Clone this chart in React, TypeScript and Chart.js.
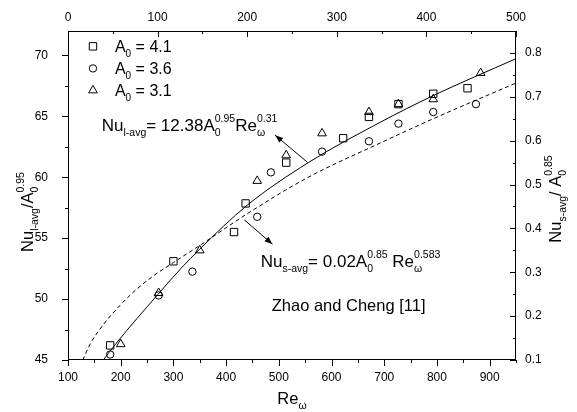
import React, { useEffect, useRef } from 'react';
import { Chart, registerables } from 'chart.js';

Chart.register(...registerables);

// Axis tick labels
const bottomTicks = [100, 200, 300, 400, 500, 600, 700, 800, 900];
const topTicks = [0, 100, 200, 300, 400, 500];
const leftTicks = [45, 50, 55, 60, 65, 70];
const rightTicks = [0.1, 0.2, 0.3, 0.4, 0.5, 0.6, 0.7, 0.8];

// Legend labels (A0 values)
const seriesLabels = ['4.1', '3.6', '3.1'];

// A0 = 4.1 (squares)
const sqRe = [180, 300, 415, 437, 514, 622, 671, 727, 793, 858];
const sqNu = [46.2, 53.1, 55.5, 57.85, 61.2, 63.2, 64.95, 66.0, 66.85, 67.3];
// A0 = 3.6 (circles)
const ciRe = [180, 272, 336, 459, 485, 582, 671, 727, 793, 874];
const ciNu = [45.45, 50.3, 52.25, 56.75, 60.4, 62.1, 62.95, 64.4, 65.35, 66.0];
// A0 = 3.1 (triangles)
const trRe = [200, 272, 350, 459, 514, 582, 671, 727, 793, 883];
const trNu = [46.3, 50.5, 54.0, 59.7, 61.8, 63.6, 65.35, 66.0, 66.4, 68.55];

// Correlation curves
const lRe = [167, 192, 271, 314, 350, 440, 556, 692, 793, 950];
const lNu = [45.0, 46.4, 50.4, 52.5, 54.1, 57.7, 61.2, 64.5, 66.7, 69.73];
const sRe = [128, 142, 167, 199, 230, 262, 300, 350, 440, 556, 692, 793, 950];
const sNu = [45.0, 46.3, 47.9, 49.5, 50.8, 51.9, 53.0, 54.4, 57.0, 60.0, 62.8, 64.8, 67.73];

const FONT = "'Liberation Sans', Arial, Helvetica, sans-serif";

type Seg = { n?: string; sub?: string; sup?: string };

function richWidth(ctx: CanvasRenderingContext2D, segs: Seg[], F: number, f: number) {
  let w = 0;
  for (const s of segs) {
    if (s.n) {
      ctx.font = `${F}px ${FONT}`;
      w += ctx.measureText(s.n).width;
    }
    if (s.sub || s.sup) {
      ctx.font = `${f}px ${FONT}`;
      w += Math.max(s.sub ? ctx.measureText(s.sub).width : 0, s.sup ? ctx.measureText(s.sup).width : 0);
    }
  }
  return w;
}

function drawRich(ctx: CanvasRenderingContext2D, segs: Seg[], x: number, y: number, F: number, f: number, align: 'left' | 'center') {
  let cx = align === 'center' ? x - richWidth(ctx, segs, F, f) / 2 : x;
  ctx.textAlign = 'left';
  ctx.textBaseline = 'alphabetic';
  ctx.fillStyle = '#000';
  for (const s of segs) {
    if (s.n) {
      ctx.font = `${F}px ${FONT}`;
      ctx.fillText(s.n, cx, y);
      cx += ctx.measureText(s.n).width;
    }
    if (s.sub || s.sup) {
      ctx.font = `${f}px ${FONT}`;
      let w = 0;
      if (s.sub) {
        ctx.fillText(s.sub, cx, y + 0.3 * F);
        w = Math.max(w, ctx.measureText(s.sub).width);
      }
      if (s.sup) {
        ctx.fillText(s.sup, cx, y - 0.55 * F);
        w = Math.max(w, ctx.measureText(s.sup).width);
      }
      cx += w;
    }
  }
}

function drawSymbol(ctx: CanvasRenderingContext2D, kind: string, x: number, y: number) {
  ctx.beginPath();
  if (kind === 'rect') {
    const h = 3.7;
    ctx.rect(x - h, y - h, 2 * h, 2 * h);
  } else if (kind === 'circle') {
    ctx.arc(x, y, 3.7, 0, Math.PI * 2);
  } else {
    const r = 5;
    for (let i = 0; i < 3; i++) {
      const a = (i * 2 * Math.PI) / 3;
      const px = x + r * Math.sin(a);
      const py = y - r * Math.cos(a);
      if (i === 0) ctx.moveTo(px, py);
      else ctx.lineTo(px, py);
    }
    ctx.closePath();
  }
  ctx.stroke();
}

function drawArrow(ctx: CanvasRenderingContext2D, x1: number, y1: number, x2: number, y2: number) {
  ctx.beginPath();
  ctx.moveTo(x1, y1);
  ctx.lineTo(x2, y2);
  ctx.stroke();
  const ang = Math.atan2(y2 - y1, x2 - x1);
  const L = 8, W = 3;
  ctx.beginPath();
  ctx.moveTo(x2, y2);
  ctx.lineTo(x2 - L * Math.cos(ang) + W * Math.sin(ang), y2 - L * Math.sin(ang) - W * Math.cos(ang));
  ctx.lineTo(x2 - L * Math.cos(ang) - W * Math.sin(ang), y2 - L * Math.sin(ang) + W * Math.cos(ang));
  ctx.closePath();
  ctx.fill();
}

const symbols = ['rect', 'circle', 'triangle'];

const decorPlugin = {
  id: 'decor',
  afterDraw(chart: any) {
    const ctx: CanvasRenderingContext2D = chart.ctx;
    const { left, right, top, bottom } = chart.chartArea;
    const sx = chart.scales.x, sy = chart.scales.y, sx2 = chart.scales.x2, sy2 = chart.scales.y2;
    const X = (v: number) => sx.getPixelForValue(v);
    const Y = (v: number) => sy.getPixelForValue(v);
    ctx.save();
    ctx.strokeStyle = '#000';
    ctx.fillStyle = '#000';
    ctx.lineWidth = 1;
    // frame
    ctx.strokeRect(left + 0.5, top + 0.5, right - left - 1, bottom - top - 1);
    const seg = (a: number, b: number, c: number, d: number) => {
      ctx.beginPath();
      ctx.moveTo(a, b);
      ctx.lineTo(c, d);
      ctx.stroke();
    };
    // bottom ticks (outward)
    const bStep = bottomTicks[1] - bottomTicks[0];
    bottomTicks.forEach((v) => {
      const p = Math.round(X(v)) + 0.5;
      seg(p, bottom, p, bottom + 6);
      const m = v + bStep / 2;
      if (m <= sx.max) {
        const q = Math.round(X(m)) + 0.5;
        seg(q, bottom, q, bottom + 3);
      }
    });
    // top ticks (inward)
    const tStep = topTicks[1] - topTicks[0];
    topTicks.forEach((v) => {
      const p = Math.round(sx2.getPixelForValue(v)) + 0.5;
      seg(p, top, p, top + 6);
      const m = v + tStep / 2;
      if (m < sx2.max) {
        const q = Math.round(sx2.getPixelForValue(m)) + 0.5;
        seg(q, top, q, top + 3);
      }
    });
    // left ticks (outward)
    const lStep = leftTicks[1] - leftTicks[0];
    leftTicks.forEach((v) => {
      const p = Math.round(Y(v)) + 0.5;
      seg(left - 6, p, left, p);
      const m = v + lStep / 2;
      if (m < sy.max) {
        const q = Math.round(Y(m)) + 0.5;
        seg(left - 3, q, left, q);
      }
    });
    // right ticks (inward)
    const rStep = rightTicks[1] - rightTicks[0];
    rightTicks.forEach((v) => {
      const p = Math.round(sy2.getPixelForValue(v)) + 0.5;
      seg(right - 6, p, right, p);
      const m = v + rStep / 2;
      if (m < sy2.max - 1e-9) {
        const q = Math.round(sy2.getPixelForValue(m)) + 0.5;
        seg(right - 3, q, right, q);
      }
    });

    // legend
    const legY = [70.74, 68.93, 67.13];
    seriesLabels.forEach((lab, i) => {
      drawSymbol(ctx, symbols[i], X(147.4), Y(legY[i]));
      drawRich(ctx, [{ n: 'A', sub: '0' }, { n: ' = ' + lab }], X(189), Y(legY[i]) + 5.5, 16, 10, 'left');
    });

    // annotations
    drawRich(
      ctx,
      [{ n: 'Nu', sub: 'l-avg' }, { n: '= 12.38A', sub: '0', sup: '0.95' }, { n: 'Re', sub: '\u03c9', sup: '0.31' }],
      X(164), Y(63.77), 17, 10.5, 'left'
    );
    drawArrow(ctx, X(555), Y(61.2), X(493), Y(63.45));
    drawRich(
      ctx,
      [{ n: 'Nu', sub: 's-avg' }, { n: '= 0.02A', sub: '0', sup: '0.85' }, { n: ' Re', sub: '\u03c9', sup: '0.583' }],
      X(465.6), Y(52.62), 17, 10.5, 'left'
    );
    drawArrow(ctx, X(434.5), Y(56.5), X(488), Y(54.5));
    ctx.font = `16.5px ${FONT}`;
    ctx.textAlign = 'left';
    ctx.textBaseline = 'alphabetic';
    ctx.fillText('Zhao and Cheng [11]', X(486.5), Y(49.0));

    // axis titles
    drawRich(ctx, [{ n: 'Re', sub: '\u03c9' }], (left + right) / 2, 404, 16.5, 10.5, 'center');
    ctx.save();
    ctx.translate(33, 212);
    ctx.rotate(-Math.PI / 2);
    drawRich(ctx, [{ n: 'Nu', sub: 'l-avg' }, { n: '/A', sub: '0', sup: '0.95' }], 0, 0, 16.5, 10.5, 'center');
    ctx.restore();
    ctx.save();
    ctx.translate(561, 199);
    ctx.rotate(-Math.PI / 2);
    drawRich(ctx, [{ n: 'Nu', sub: 's-avg' }, { n: '/ A', sub: '0', sup: '0.85' }], 0, 0, 16.5, 10.5, 'center');
    ctx.restore();

    ctx.restore();
  },
};

const pts = (xs: number[], ys: number[]) => xs.map((x, i) => ({ x, y: ys[i] }));

const tickFont = { family: FONT, size: 12 };

export default function App() {
  const ref = useRef<HTMLCanvasElement | null>(null);
  useEffect(() => {
    if (!ref.current) return;
    const chart = new Chart(ref.current, {
      type: 'scatter',
      data: {
        datasets: [
          {
            label: 'Nu_l-avg fit',
            data: pts(lRe, lNu),
            showLine: true,
            borderColor: '#000',
            borderWidth: 1,
            pointRadius: 0,
            cubicInterpolationMode: 'monotone',
            xAxisID: 'x',
            yAxisID: 'y',
          } as any,
          {
            label: 'Nu_s-avg fit',
            data: pts(sRe, sNu),
            showLine: true,
            borderColor: '#000',
            borderWidth: 1,
            borderDash: [4, 3],
            pointRadius: 0,
            cubicInterpolationMode: 'monotone',
            xAxisID: 'x',
            yAxisID: 'y',
          } as any,
          {
            label: 'A0 = ' + seriesLabels[0],
            data: pts(sqRe, sqNu),
            pointStyle: 'rect',
            pointRadius: 5.2,
            borderColor: '#000',
            backgroundColor: 'rgba(0,0,0,0)',
            borderWidth: 1,
            xAxisID: 'x',
            yAxisID: 'y',
          },
          {
            label: 'A0 = ' + seriesLabels[1],
            data: pts(ciRe, ciNu),
            pointStyle: 'circle',
            pointRadius: 3.7,
            borderColor: '#000',
            backgroundColor: 'rgba(0,0,0,0)',
            borderWidth: 1,
            xAxisID: 'x',
            yAxisID: 'y',
          },
          {
            label: 'A0 = ' + seriesLabels[2],
            data: pts(trRe, trNu),
            pointStyle: 'triangle',
            pointRadius: 5,
            borderColor: '#000',
            backgroundColor: 'rgba(0,0,0,0)',
            borderWidth: 1,
            xAxisID: 'x',
            yAxisID: 'y',
          },
        ],
      },
      options: {
        responsive: false,
        animation: false,
        devicePixelRatio: 1,
        layout: { padding: 0 },
        plugins: { legend: { display: false }, tooltip: { enabled: false } },
        scales: {
          x: {
            type: 'linear',
            position: 'bottom',
            min: 100,
            max: 950,
            grid: { display: false, drawTicks: false },
            border: { display: false },
            ticks: { padding: 10, font: tickFont, color: '#000', autoSkip: false, maxRotation: 0 },
            afterBuildTicks: (s: any) => { s.ticks = bottomTicks.map((v) => ({ value: v })); },
            afterFit: (s: any) => { s.height = 52; },
          },
          x2: {
            type: 'linear',
            position: 'top',
            min: 0,
            max: 500,
            grid: { display: false, drawTicks: false },
            border: { display: false },
            ticks: { padding: 6, font: tickFont, color: '#000', autoSkip: false, maxRotation: 0 },
            afterBuildTicks: (s: any) => { s.ticks = topTicks.map((v) => ({ value: v })); },
            afterFit: (s: any) => { s.height = 31; },
          },
          y: {
            type: 'linear',
            position: 'left',
            min: 45,
            max: 72,
            grid: { display: false, drawTicks: false },
            border: { display: false },
            ticks: { padding: 20, font: tickFont, color: '#000', autoSkip: false },
            afterBuildTicks: (s: any) => { s.ticks = leftTicks.map((v) => ({ value: v })); },
            afterFit: (s: any) => { s.width = 68; },
          },
          y2: {
            type: 'linear',
            position: 'right',
            min: 0.1,
            max: 0.85,
            grid: { display: false, drawTicks: false },
            border: { display: false },
            ticks: {
              padding: 9,
              font: tickFont,
              color: '#000',
              autoSkip: false,
              callback: (v: any) => Number(v).toFixed(1),
            },
            afterBuildTicks: (s: any) => { s.ticks = rightTicks.map((v) => ({ value: v })); },
            afterFit: (s: any) => { s.width = 61; },
          },
        },
      } as any,
      plugins: [decorPlugin],
    });
    return () => chart.destroy();
  }, []);
  return (
    <div style={{ position: 'absolute', left: 0, top: 0, width: 577, height: 412, background: '#fff' }}>
      <canvas ref={ref} width={577} height={412} style={{ width: 577, height: 412, display: 'block' }} />
    </div>
  );
}
